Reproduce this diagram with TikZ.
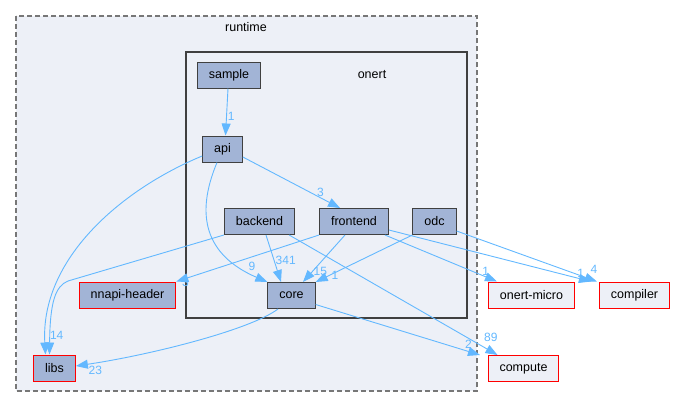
\documentclass[tikz,border=0pt]{standalone}
\usepackage{fontspec}
\setmainfont{Liberation Sans}
\usepackage{xcolor}
\usepackage{tikz}
\usetikzlibrary{arrows.meta}
\usetikzlibrary{shapes,positioning}

\definecolor{dirfill}{HTML}{A2B4D6}
\definecolor{clusterfill}{HTML}{EDF0F7}
\definecolor{depblue}{HTML}{63B8FF}
\definecolor{darkframe}{HTML}{404040}
\definecolor{dashframe}{HTML}{777777}

\begin{document}
\begin{tikzpicture}[x=1pt,y=-1pt,
    every node/.style={font=\fontsize{12.5}{14}\selectfont},
    dirnode/.style={draw=darkframe, fill=dirfill, line width=1pt, minimum height=26pt, inner xsep=11.5pt, inner ysep=0pt},
    extnode/.style={dirnode, draw=red},
    outnode/.style={extnode, fill=clusterfill},
    dep/.style={draw=depblue, line width=0.9pt, -{Triangle[length=12pt,width=9pt]}},
    deplabel/.style={text=depblue, font=\fontsize{12}{14}\selectfont, inner sep=1pt}]
            \useasboundingbox (0,0) rectangle (675,408);

            % the two clusters
            \filldraw[fill=clusterfill, draw=dashframe, line width=1.3pt, dash pattern=on 5pt off 3pt] (16,16) rectangle (477,391);
            \node (runtimelabel) at (246,27) {runtime};
            \filldraw[fill=clusterfill, draw=darkframe, line width=2pt] (186,52) rectangle (467,318);
            \node (onertlabel) at (372,75) {onert};

            % the directories
            \node[dirnode] (sample) at (229,75) {sample};
            \node[dirnode] (api) at (222.5,149) {api};
            \node[dirnode] (backend) at (259.5,221.5) {backend};
            \node[dirnode] (frontend) at (354,221.5) {frontend};
            \node[dirnode] (odc) at (434.5,221.5) {odc};
            \node[dirnode] (core) at (291.5,295.5) {core};
            \node[extnode] (nnapi) at (127.5,295) {nnapi-header};
            \node[extnode] (libs) at (54.5,368) {libs};
            \node[outnode] (micro) at (531.5,295) {onert-micro};
            \node[outnode] (compiler) at (634.5,295) {compiler};
            \node[outnode] (compute) at (523.5,368.5) {compute};

            % the dependencies and their counts
            \draw[dep] ([xshift=-1pt]sample.south) -- ([xshift=3pt]api.north) node[deplabel, pos=0.6, right] {1};
            \draw[dep] ([yshift=-8pt]api.east) -- ([xshift=-14pt]frontend.north) node[deplabel, pos=0.8, above] {3};
            \draw[dep] ([yshift=-7pt]api.west) .. controls (120,190) and (40,260) .. ([xshift=-9pt]libs.north) node[deplabel, pos=0.93, right, xshift=3pt] {14};
            \draw[dep] ([xshift=-5.5pt]api.south) .. controls (195,215) and (205,255) .. (core.north west) node[deplabel, pos=0.88, above right] {9};
            \draw[dep] (backend.south west) -- (68,281) .. controls (56,286) and (50,300) .. ([xshift=-5pt]libs.north);
            \draw[dep] ([xshift=6.5pt]backend.south) -- ([xshift=-10.5pt]core.north) node[deplabel, pos=0.55, right] {341};
            \draw[dep] ([xshift=-6pt]backend.south east) -- ([xshift=-26pt]compute.north) node[deplabel, pos=0.9, above right, xshift=6pt] {89};
            \draw[dep] ([xshift=-9pt]frontend.south) -- ([xshift=11.5pt]core.north) node[deplabel, pos=0.78, right] {15};
            \draw[dep] (frontend.south west) -- (nnapi.north east) node[deplabel, pos=0.95, xshift=2pt, yshift=-3pt] {3};
            \draw[dep] ([xshift=-4pt]frontend.south east) -- ([xshift=-34.5pt]micro.north) node[deplabel, pos=0.9, above] {1};
            \draw[dep] ([yshift=-8.5pt]frontend.east) -- ([xshift=-8pt]compiler.north west) node[deplabel, pos=0.95, above] {1};
            \draw[dep] (odc.south west) -- (core.north east) node[deplabel, pos=0.85, right] {1};
            \draw[dep] ([yshift=-9.5pt]odc.east) -- ([xshift=-2pt]compiler.north west) node[deplabel, pos=0.95, above, xshift=4pt, yshift=4pt] {4};
            \draw[dep] ([xshift=-13.5pt]core.south) .. controls (250,330) and (150,355) .. ([yshift=2pt]libs.east) node[deplabel, pos=0.95, below right] {23};
            \draw[dep] ([yshift=-9pt]core.east) -- ([xshift=-43.5pt]compute.north) node[deplabel, pos=0.9, above right] {2};
\end{tikzpicture}
\end{document}
